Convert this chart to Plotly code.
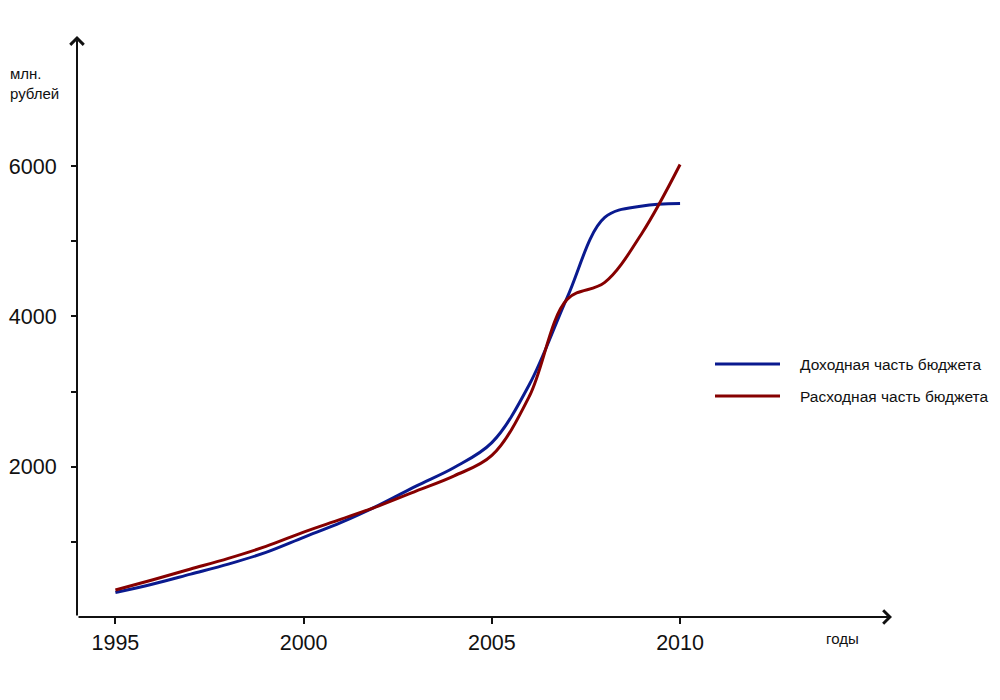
import plotly.graph_objects as go

years = list(range(1995, 2011))
income = [325, 439, 571, 704, 860, 1060, 1258, 1488, 1745, 1989, 2320, 3096, 4250, 5316, 5468, 5502]
expense = [360, 496, 638, 780, 940, 1130, 1302, 1479, 1678, 1878, 2150, 2941, 4226, 4452, 5116, 6020]
series_names = ["Доходная часть бюджета", "Расходная часть бюджета"]
colors = ["#0a1a8f", "#860000"]

x_ticks = [1995, 2000, 2005, 2010]
y_ticks = [1000, 2000, 3000, 4000, 5000, 6000]
y_ticktext = ["", "2000", "", "4000", "", "6000"]

X0, X1 = 1993.98, 2015.63
Y0, Y1 = 0, 7730

# page has an 8px body margin; figure is placed at (8, 8)
OFF = 8
W, H = 1000 - OFF, 700 - OFF
PL, PR, PT, PB = 77, 892, 36, 617          # plot area in page pixels
L, R, T, B = PL - OFF, W + OFF - PR, PT - OFF, H + OFF - PB
PW, PH = PR - PL, PB - PT


def px(x):
    return (x - PL) / PW


def py(y):
    return (PB - y) / PH


FONT = "Liberation Sans, Arial"

fig = go.Figure()
for vals, name, col in zip([income, expense], series_names, colors):
    fig.add_trace(go.Scatter(x=years, y=vals, mode="lines", name=name,
                             line=dict(color=col, width=3, shape="spline", smoothing=1.0),
                             showlegend=False))

# axes arrows
fig.add_annotation(x=X1, y=0, ax=X0, ay=0, xref="x", yref="y", axref="x", ayref="y",
                   text="", showarrow=True, arrowhead=4, arrowsize=1.3, arrowwidth=2, arrowcolor="#111")
fig.add_annotation(x=X0, y=Y1, ax=X0, ay=0, xref="x", yref="y", axref="x", ayref="y",
                   text="", showarrow=True, arrowhead=4, arrowsize=1.3, arrowwidth=2, arrowcolor="#111")

# axis captions
fig.add_annotation(x=px(8), y=py(63), xref="paper", yref="paper", xanchor="left", yanchor="top",
                   text="млн.<br>рублей", showarrow=False, align="left",
                   font=dict(family=FONT, size=15, color="#111"))
fig.add_annotation(x=px(824), y=py(638), xref="paper", yref="paper",
                   xanchor="left", yanchor="middle",
                   text="годы", showarrow=False,
                   font=dict(family=FONT, size=15, color="#111"))

# manual legend
legend_y = [py(364), py(396)]
for ly, name, col in zip(legend_y, series_names, colors):
    fig.add_shape(type="line", xref="paper", yref="paper",
                  x0=px(715), x1=px(780), y0=ly, y1=ly,
                  line=dict(color=col, width=3))
    fig.add_annotation(x=px(798), y=ly, xref="paper", yref="paper",
                       xanchor="left", yanchor="middle", text=name, showarrow=False,
                       font=dict(family=FONT, size=15.5, color="#111"))

fig.update_layout(
    width=W, height=H,
    margin=dict(l=L, r=R, t=T, b=B, pad=0),
    plot_bgcolor="white", paper_bgcolor="white",
    font=dict(family=FONT, size=21.5, color="#111"),
    xaxis=dict(range=[X0, X1], showgrid=False, zeroline=False, showline=False, automargin=False,
               tickmode="array", tickvals=x_ticks, ticks="outside", ticklen=6,
               tickwidth=1.5, tickcolor="#111", ticklabelstandoff=0),
    yaxis=dict(range=[Y0, Y1], showgrid=False, zeroline=False, showline=False, automargin=False,
               tickmode="array", tickvals=y_ticks, ticktext=y_ticktext,
               ticks="outside", ticklen=5, tickwidth=1.5, tickcolor="#111",
               ticklabelstandoff=10),
)

fig.write_html("out.html")
